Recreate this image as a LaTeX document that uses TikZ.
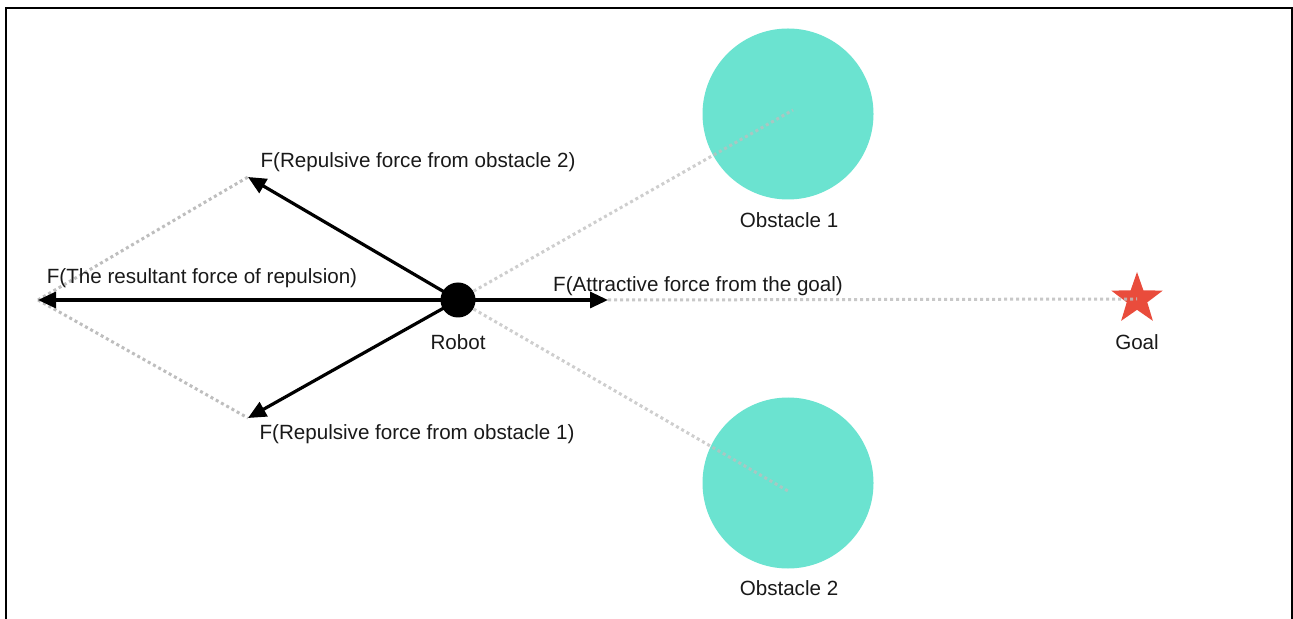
\documentclass[tikz,border=0pt]{standalone}
\usepackage{fontspec}
\setmainfont{Liberation Sans}
\usetikzlibrary{arrows.meta,shapes.geometric}
\definecolor{obstaclefill}{RGB}{107,227,208}
\definecolor{goalred}{RGB}{233,76,60}
\definecolor{guidegray}{RGB}{190,190,190}
\definecolor{labeltext}{RGB}{25,25,25}
\tikzset{
  guide/.style={draw=guidegray, line width=1.5pt, dash pattern=on 1.5pt off 1.5pt},
  force/.style={draw=black, line width=1.6pt, -{Triangle[length=9pt,width=8pt]}},
  obstacle/.style={circle, fill=obstaclefill, minimum size=85.5pt, inner sep=0pt},
  robotbody/.style={circle, fill=black, minimum size=17.5pt, inner sep=0pt},
  goalstar/.style={star, star points=5, star point ratio=2.5, fill=goalred, minimum size=27pt, inner sep=0pt},
  lbl/.style={text=labeltext, font=\fontsize{10.3}{12}\selectfont, inner sep=0pt},
}
\begin{document}
\begin{tikzpicture}[x=0.5pt,y=-0.5pt]
  \useasboundingbox (0,0) rectangle (1293,619);
  % frame of the figure
  \draw[line width=1pt] (6,640) -- (6,8) -- (1292,8) -- (1292,640);

  % obstacles and goal
  \node[obstacle] (obs1) at (788,114) {};
  \node[obstacle] (obs2) at (788,483) {};
  \node[goalstar] (goal) at (1137,299) {};

  % force end points
  \coordinate (res) at (38,300);
  \coordinate (rep2) at (248,177);
  \coordinate (rep1) at (248,418);
  \coordinate (att) at (608,300);
  \coordinate (robotc) at (458,300);

  % dotted construction lines
  \draw[guide] (res) -- (rep2);
  \draw[guide] (res) -- (rep1);
  \draw[guide, opacity=0.75] (robotc) -- ([xshift=2.5pt,yshift=2pt]obs1.center);
  \draw[guide, opacity=0.75] (robotc) -- ([yshift=-4pt]obs2.center);
  \draw[guide, opacity=0.85] (att) -- (goal.center);

  % force vectors
  \draw[force] (robotc) -- (res);
  \draw[force] (robotc) -- (rep2);
  \draw[force] (robotc) -- (rep1);
  \draw[force] (robotc) -- (att);

  % robot
  \node[robotbody] (robot) at (robotc) {};

  % labels
  \node[lbl] (robotlbl) at (458,342) {Robot};
  \node[lbl] (goallbl) at (1137,342) {Goal};
  \node[lbl] (obs1lbl) at (789,220) {Obstacle 1};
  \node[lbl] (obs2lbl) at (789,588) {Obstacle 2};
  \node[lbl] (attlbl) at (698,286) {F(Attractive force from the goal)};
  \node[lbl] (reslbl) at (202,278) {F(The resultant force of repulsion)};
  \node[lbl] (rep2lbl) at (418,162) {F(Repulsive force from obstacle 2)};
  \node[lbl] (rep1lbl) at (417,434) {F(Repulsive force from obstacle 1)};
\end{tikzpicture}
\end{document}
